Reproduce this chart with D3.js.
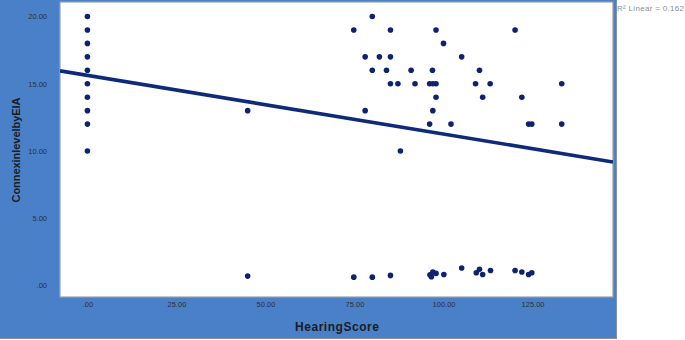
<!DOCTYPE html>
<html><head><meta charset="utf-8">
<script src="https://cdn.jsdelivr.net/npm/d3@7"></script>
<style>
html,body{margin:0;padding:0;background:#fff;}
svg{display:block;font-family:"Liberation Sans",Arial,sans-serif;}
</style></head>
<body><svg id="c" width="685" height="340"></svg>
<script>
// Data
const hearingScore = [
  0,0,0,0,0,0,0,0,0,0,
  45,45,
  80,74.8,85.1,97.9,120.1,100,78,82,85.1,105.1,
  80,84,90.9,96.9,110.1,
  85.1,87.2,92,96.1,97,97.9,109,113.1,133.2,
  97.9,111,122,78,97,96.1,102.1,123.9,124.8,133.2,87.9,
  74.8,80,85.1,96.2,97,96.6,97.9,100.1,105.1,109.2,110.1,111,113.2,120.1,122,123.9,124.8
];
const connexinLevel = [
  20,19,18,17,16,15,14,13,12,10,
  13,0.7,
  20,19,19,19,19,18,17,17,17,17,
  16,16,16,16,16,
  15,15,15,15,15,15,15,15,15,
  14,14,14,13,13,12,12,12,12,12,10,
  0.62,0.62,0.75,0.8,1.0,0.65,0.9,0.82,1.3,0.95,1.2,0.82,1.12,1.12,1.0,0.82,0.95
];
const xTicks = [0,25,50,75,100,125];
const xTickLabels = [".00","25.00","50.00","75.00","100.00","125.00"];
const yTicks = [0,5,10,15,20];
const yTickLabels = [".00","5.00","10.00","15.00","20.00"];
const fitIntercept = 15.62;
const fitSlope = -0.0436;
const legendText = "R\u00B2 Linear = 0.162";
const xTitle = "HearingScore";
const yTitle = "ConnexinlevelbyEIA";

const svg = d3.select("#c");
const blue = "#4a80c8";
const plot = {l:60, r:613, t:2, b:297};

// frame background
svg.append("rect").attr("x",0).attr("y",0).attr("width",616).attr("height",338).attr("fill",blue);
svg.append("line").attr("x1",0).attr("x2",617).attr("y1",338.5).attr("y2",338.5).attr("stroke","#8a8f98").attr("stroke-width",1);
svg.append("line").attr("x1",616.5).attr("x2",616.5).attr("y1",0).attr("y2",339).attr("stroke","#8a8f98").attr("stroke-width",1);
// plot area
svg.append("rect").attr("x",plot.l).attr("y",plot.t).attr("width",plot.r-plot.l).attr("height",plot.b-plot.t)
  .attr("fill","#fff").attr("stroke","#9aa0a8").attr("stroke-width",1.2);

const x = d3.scaleLinear().domain([-7.7,147.6]).range([plot.l,plot.r]);
const y = d3.scaleLinear().domain([0,20]).range([285.5,16.5]);

// axes (labels only, no tick lines)
const xAxis = d3.axisBottom(x).tickValues(xTicks).tickSize(0).tickPadding(0)
  .tickFormat((d,i)=>xTickLabels[i]);
const gx = svg.append("g").attr("transform",`translate(0,${plot.b+5})`).call(xAxis);
gx.select(".domain").remove();
gx.selectAll("text").attr("font-size",7.5).attr("fill","#2a2f3a").attr("dy","0.71em");

const yAxis = d3.axisLeft(y).tickValues(yTicks).tickSize(0).tickPadding(0)
  .tickFormat((d,i)=>yTickLabels[i]);
const gy = svg.append("g").attr("transform",`translate(${47},0)`).call(yAxis);
gy.select(".domain").remove();
gy.selectAll("text").attr("font-size",7.5).attr("fill","#2a2f3a");

// titles
svg.append("text").attr("x",337).attr("y",331).attr("text-anchor","middle")
  .attr("font-size",12).attr("font-weight","bold").attr("fill","#1a1d24")
  .attr("textLength",84).attr("lengthAdjust","spacing").text(xTitle);
svg.append("text").attr("transform","translate(20,150) rotate(-90)").attr("text-anchor","middle")
  .attr("font-size",11).attr("font-weight","bold").attr("fill","#1a1d24")
  .attr("textLength",105).attr("lengthAdjust","spacing").text(yTitle);

// fit line
svg.append("clipPath").attr("id","pc").append("rect")
  .attr("x",plot.l).attr("y",plot.t).attr("width",plot.r-plot.l).attr("height",plot.b-plot.t);
const xd = x.domain();
svg.append("line").attr("clip-path","url(#pc)")
  .attr("x1",x(xd[0])).attr("y1",y(fitIntercept+fitSlope*xd[0]))
  .attr("x2",x(xd[1])).attr("y2",y(fitIntercept+fitSlope*xd[1]))
  .attr("stroke","#0f2a78").attr("stroke-width",3.6);

// points
svg.append("g").selectAll("circle").data(hearingScore).join("circle")
  .attr("cx",d=>x(d)).attr("cy",(d,i)=>y(connexinLevel[i])).attr("r",2.8)
  .attr("fill","#0d2270");

// legend
svg.append("text").attr("x",617).attr("y",11).attr("font-size",8).attr("fill","#8a8f98")
  .attr("textLength",67).attr("lengthAdjust","spacing").text(legendText);
</script></body></html>
